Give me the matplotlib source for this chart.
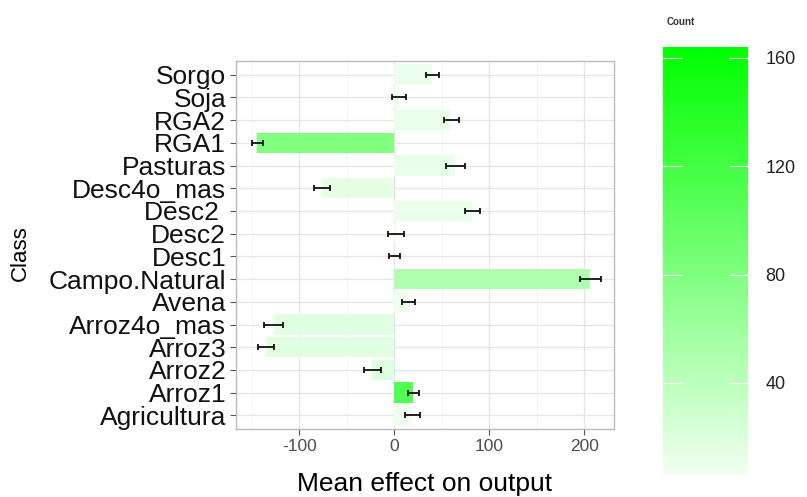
import numpy as np
import matplotlib.pyplot as plt
from matplotlib.colors import LinearSegmentedColormap, Normalize

plt.rcParams['font.family'] = ['Liberation Sans', 'DejaVu Sans']

# data (top to bottom as in the chart)
classes = ['Sorgo', 'Soja', 'RGA2', 'RGA1', 'Pasturas', 'Desc4o_mas', 'Desc2 ',
           'Desc2', 'Desc1', 'Campo.Natural', 'Avena', 'Arroz4o_mas', 'Arroz3',
           'Arroz2', 'Arroz1', 'Agricultura']
mean_effect = [40, 5, 60, -144, 64, -76, 82, 1.5, 0, 206, 15, -127, -135, -23, 20, 19]
err = [7, 7.5, 8, 6, 10, 8, 8, 8.5, 6, 11, 7, 10, 8, 9, 6, 7.5]
count = [9, 7, 10, 80, 10, 14, 10, 7, 7, 48, 8, 16, 17, 18, 111, 7]
cbar_ticks = [40, 80, 120, 160]

cmap = LinearSegmentedColormap.from_list('cnt', ['#F0FFF0', '#00FF00'])
norm = Normalize(vmin=6, vmax=164)

fig = plt.figure(figsize=(8.07, 4.97), dpi=100)
ax = fig.add_axes([0.2924, 0.1368, 0.4684, 0.7404])

n = len(classes)
ypos = np.arange(n)[::-1]
ax.barh(ypos, mean_effect, height=0.9, color=cmap(norm(np.array(count))), zorder=2)
ax.errorbar(mean_effect, ypos, xerr=err, fmt='none', ecolor='#111111',
            elinewidth=1.3, capsize=2.5, capthick=1.3, zorder=3)

ax.set_xlim(-166.6, 231)
ax.set_ylim(-0.6, n - 0.4)
ax.set_yticks(ypos)
ax.set_yticklabels(classes, fontsize=19, color='#111111')
ax.set_xticks([-100, 0, 100, 200])
ax.set_xticklabels(['-100', '0', '100', '200'], fontsize=12.5, color='#4D4D4D')
ax.set_xticks([-150, -50, 50, 150], minor=True)
ax.tick_params(axis='both', which='major', length=4, width=0.8, color='#555555', pad=3)
ax.tick_params(axis='x', which='minor', length=0)
ax.grid(True, which='major', color='#E5E5E5', linewidth=0.9, zorder=0)
ax.grid(True, which='minor', axis='x', color='#F2F2F2', linewidth=0.6, zorder=0)
ax.set_axisbelow(True)
for s in ax.spines.values():
    s.set_color('#BBBBBB')
    s.set_linewidth(1.0)

ax.set_xlabel('Mean effect on output', fontsize=19, labelpad=13)
fig.text(0.025, 0.49, 'Class', rotation=90, fontsize=16, ha='center', va='center')

# colour bar
cax = fig.add_axes([0.822, 0.0443, 0.1045, 0.861])
sm = plt.cm.ScalarMappable(norm=norm, cmap=cmap)
cb = fig.colorbar(sm, cax=cax, ticks=cbar_ticks)
cb.outline.set_visible(False)
cax.tick_params(which='major', direction='in', length=14, width=0.8, color='white',
                left=True, right=True, labelsize=13, pad=13, labelcolor='#222222')
fig.text(0.826, 0.955, 'Count', fontsize=7, fontweight='bold', color='#333333',
         ha='left', va='center')

fig.savefig('out.png', dpi=100)
